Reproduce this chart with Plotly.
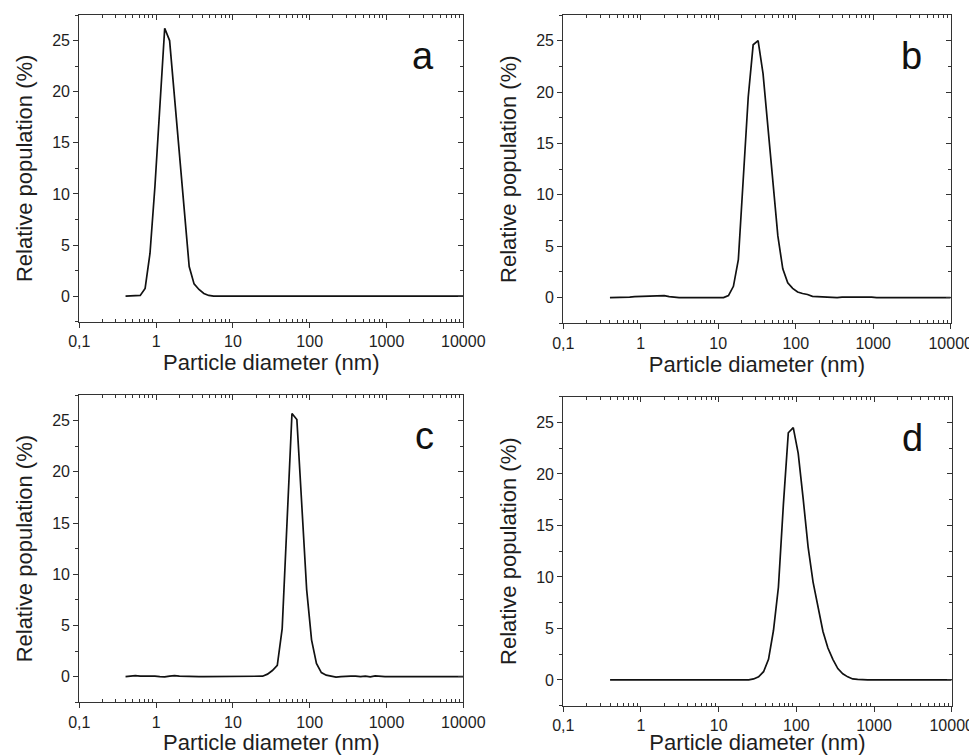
import plotly.graph_objects as go

# Malvern size bins (nm)
diameter = [0.4, 0.4632, 0.5365, 0.6213, 0.7195, 0.8332, 0.9649, 1.117, 1.294, 1.499,
            1.736, 2.010, 2.328, 2.696, 3.122, 3.615, 4.187, 4.849, 5.615, 6.503,
            7.531, 8.721, 10.10, 11.70, 13.54, 15.69, 18.17, 21.04, 24.36, 28.21,
            32.67, 37.84, 43.82, 50.75, 58.77, 68.06, 78.82, 91.28, 105.7, 122.4,
            141.8, 164.2, 190.1, 220.2, 255.0, 295.3, 342.0, 396.1, 458.7, 531.2,
            615.1, 712.4, 825.0, 955.4, 1106, 1281, 1484, 1718, 1990, 2305,
            2669, 3091, 3580, 4145, 4801, 5560, 6439, 7456, 8635, 10000]

pop_a = [0, 0, 0, 0.07, 0.75, 4.2, 10.7, 18.2, 26.2, 25.0,
         19.6, 13.8, 8.1, 2.9, 1.2, 0.65, 0.26, 0.07, 0, 0,
         0, 0, 0, 0, 0, 0, 0, 0, 0, 0,
         0, 0, 0, 0, 0, 0, 0, 0, 0, 0,
         0, 0, 0, 0, 0, 0, 0, 0, 0, 0,
         0, 0, 0, 0, 0, 0, 0, 0, 0, 0,
         0, 0, 0, 0, 0, 0, 0, 0, 0, 0]

pop_b = [0, 0, 0, 0.02, 0.05, 0.1, 0.12, 0.15, 0.1, 0.12,
         0.15, 0.2, 0.1, 0.02, 0, 0, 0, 0, 0, 0,
         0, 0, 0, 0, 0.2, 1.1, 3.7, 12.0, 19.5, 24.6,
         25.0, 21.8, 16.5, 10.8, 6.0, 2.8, 1.45, 0.9, 0.55, 0.4,
         0.3, 0.12, 0.1, 0.08, 0.05, 0, 0, 0.05, 0.05, 0.1,
         0.08, 0.05, 0.1, 0.05, 0, 0, 0, 0, 0, 0,
         0, 0, 0, 0, 0, 0, 0, 0, 0, 0]

pop_c = [0, 0.05, 0.1, 0.05, 0.05, 0.08, 0.05, 0, -0.02, 0.05,
         0.1, 0.05, 0.02, 0, 0, 0, 0, 0, 0, 0,
         0, 0, 0, 0, 0, 0, 0, 0, 0.05, 0.25,
         0.6, 1.1, 4.7, 15.2, 25.7, 25.1, 16.2, 8.5, 3.6, 1.3,
         0.4, 0.15, 0.05, -0.05, 0, 0.05, 0.05, 0.05, 0, 0.05,
         -0.02, 0.08, 0.02, 0, 0, 0, 0, 0, 0, 0,
         0, 0, 0, 0, 0, 0, 0, 0, 0, 0]

pop_d = [0, 0, 0, 0, 0, 0, 0, 0, 0, 0,
         0, 0, 0, 0, 0, 0, 0, 0, 0, 0,
         0, 0, 0, 0, 0, 0, 0, 0, 0, 0.1,
         0.3, 0.8, 2.0, 4.8, 9.0, 17.0, 24.0, 24.5, 22.0, 17.6,
         12.9, 9.5, 7.0, 4.7, 3.1, 2.0, 1.1, 0.6, 0.3, 0.1,
         0.05, 0, 0, 0, 0, 0, 0, 0, 0, 0,
         0, 0, 0, 0, 0, 0, 0, 0, 0, 0]

panels = ["a", "b", "c", "d"]
series = [pop_a, pop_b, pop_c, pop_d]

x_ticks = [0.1, 1, 10, 100, 1000, 10000]
x_ticktext = ["0,1", "1", "10", "100", "1000", "10000"]
x_minor = [m * 10 ** e for e in range(-1, 4) for m in range(2, 10)]

# page is 977x755 but the body has an 8px margin
OFF = 8
W, H = 977 - OFF, 755 - OFF
# plot areas in page pixels: (left, right, top, bottom)
boxes = [(79.3, 463.3, 15, 321.7),
         (563.3, 950.7, 15, 323.3),
         (79.3, 463.3, 395, 702.3),
         (563.3, 951.7, 396.7, 705.7)]

FONT = "Liberation Sans, Arial, sans-serif"
AX = "#333333"
TXT = "#1e1e1e"

fig = go.Figure()
layout = {}
for i, (name, ys) in enumerate(zip(panels, series)):
    n = i + 1
    xs = "" if n == 1 else str(n)
    k = str(n + 4)
    fig.add_trace(go.Scatter(x=diameter, y=ys, mode="lines",
                             line=dict(color="#111111", width=1.7),
                             xaxis="x" + xs, yaxis="y" + xs, showlegend=False))
    # empty trace so the top/right frame axes get drawn
    fig.add_trace(go.Scatter(x=[], y=[], mode="lines", xaxis="x" + k, yaxis="y" + k,
                             showlegend=False, hoverinfo="skip"))
    l, r, t, b = boxes[i]
    xdom = [(l - OFF) / W, (r - OFF) / W]
    ydom = [1 - (b - OFF) / H, 1 - (t - OFF) / H]
    layout["xaxis" + xs] = dict(
        domain=xdom, anchor="y" + xs, type="log", range=[-1, 4], automargin=False,
        tickvals=x_ticks, ticktext=x_ticktext, ticks="outside", ticklen=5,
        tickwidth=1, tickcolor=AX, showline=True, linecolor=AX, linewidth=1.2,
        showgrid=False, zeroline=False,
        minor=dict(tickvals=x_minor, ticks="inside", ticklen=3, tickcolor=AX),
        tickfont=dict(size=16, color=TXT, family=FONT),
        title=dict(text="Particle diameter (nm)", standoff=4,
                   font=dict(size=22, color=TXT, family=FONT)))
    layout["yaxis" + xs] = dict(
        domain=ydom, anchor="x" + xs, range=[-2.5, 27.5], automargin=False,
        tick0=0, dtick=5, ticks="outside", ticklen=5, tickwidth=1, tickcolor=AX,
        showline=True, linecolor=AX, linewidth=1.2, showgrid=False, zeroline=False,
        minor=dict(dtick=2.5, tick0=0, ticks="outside", ticklen=3, tickcolor=AX),
        tickfont=dict(size=16, color=TXT, family=FONT),
        title=dict(text="Relative population (%)", standoff=13,
                   font=dict(size=22, color=TXT, family=FONT)))
    # top / right frame with inward ticks
    layout["xaxis" + k] = dict(
        overlaying="x" + xs, anchor="y" + k, side="top", type="log", range=[-1, 4],
        tickvals=x_ticks, ticks="inside", ticklen=5, tickcolor=AX, automargin=False,
        showticklabels=False, showline=True, linecolor=AX, linewidth=1.2,
        showgrid=False, zeroline=False,
        minor=dict(tickvals=x_minor, ticks="inside", ticklen=3, tickcolor=AX))
    layout["yaxis" + k] = dict(
        overlaying="y" + xs, anchor="x" + k, side="right", range=[-2.5, 27.5],
        tick0=0, dtick=5, ticks="inside", ticklen=5, tickcolor=AX, automargin=False,
        showticklabels=False, showline=True, linecolor=AX, linewidth=1.2,
        showgrid=False, zeroline=False,
        minor=dict(dtick=2.5, tick0=0, ticks="inside", ticklen=3, tickcolor=AX))
    fig.add_annotation(x=0.93, y=0.94, xref="x" + xs + " domain", yref="y" + xs + " domain",
                       text=name, showarrow=False,
                       font=dict(size=38, color="#111", family=FONT))

fig.update_layout(**layout)
fig.update_layout(width=W, height=H, margin=dict(l=0, r=0, t=0, b=0, autoexpand=False),
                  paper_bgcolor="white", plot_bgcolor="white")

fig.write_html("out.html")
